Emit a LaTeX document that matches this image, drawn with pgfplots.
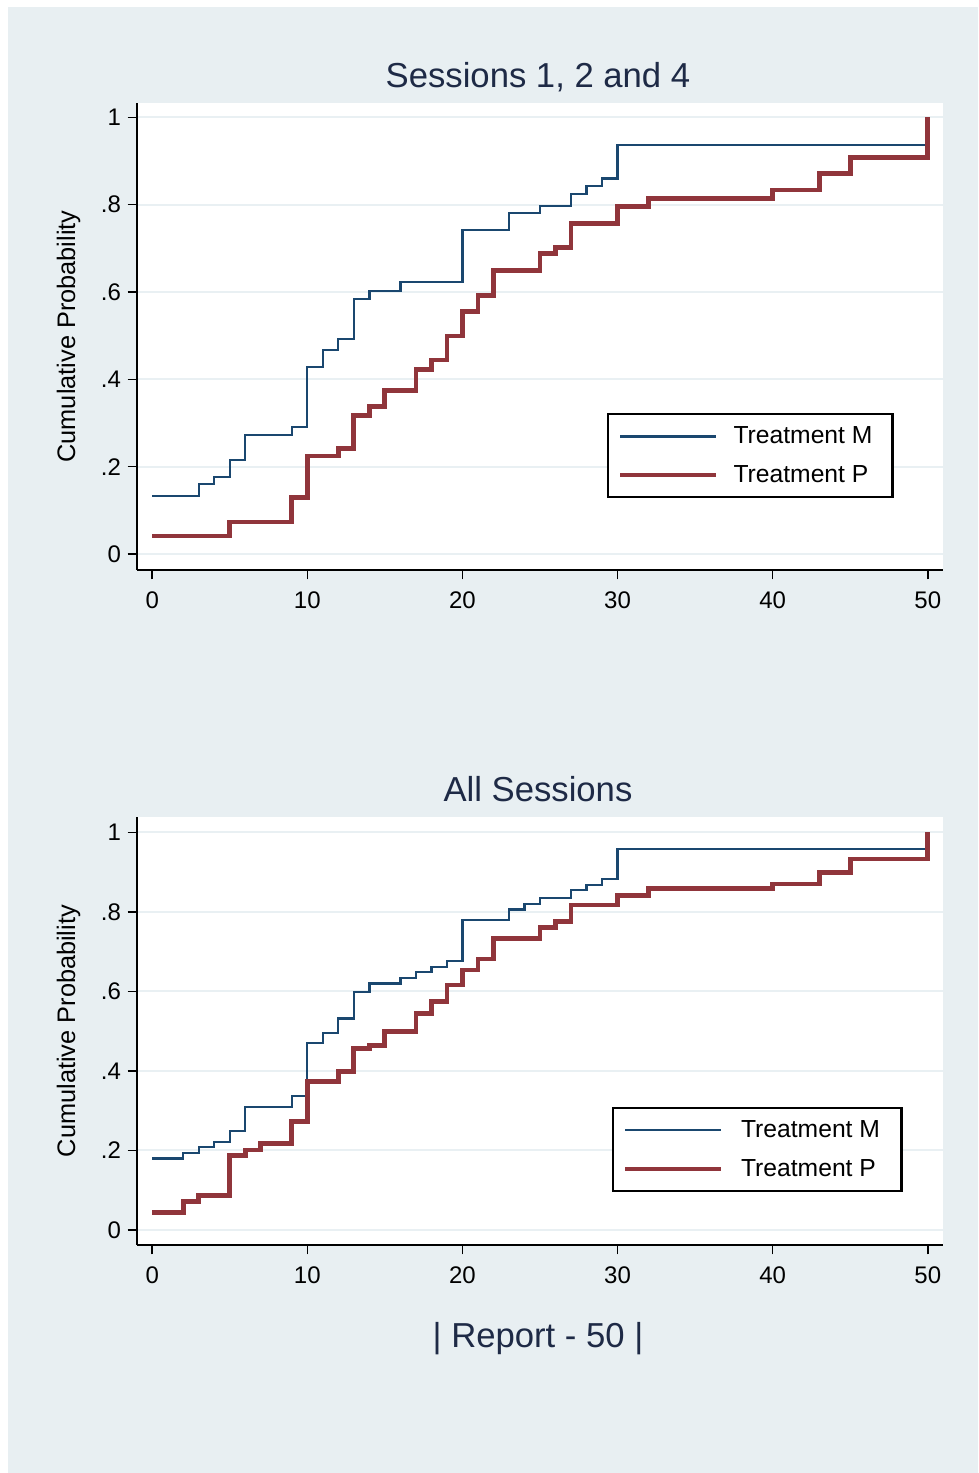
\documentclass[border=0pt]{standalone}
\usepackage{pgfplots}
\pgfplotsset{compat=1.18}
\usepackage{fontspec}
\setmainfont{Liberation Sans}
\definecolor{bgc}{RGB}{232,239,242}
\definecolor{gridc}{RGB}{233,240,243}
\definecolor{mblue}{RGB}{26,71,111}
\definecolor{pred}{RGB}{144,53,59}
\definecolor{titc}{RGB}{30,42,70}
\newcommand\tickfont{\fontsize{18}{21}\selectfont}
\newcommand\legfont{\fontsize{18.5}{22}\selectfont}
\newcommand\ylabfont{\fontsize{19}{22}\selectfont}
\newcommand\titfont{\fontsize{26}{30}\selectfont}
\pgfplotsset{
  cdfaxis/.style={
    scale only axis, width=604.5pt,
    xmin=-0.98, xmax=50.98,
    axis lines*=left,
    axis line style={-, line width=1.1pt, black},
    xtick={0,10,20,30,40,50}, xticklabels={0,10,20,30,40,50},
    ytick={0,0.2,0.4,0.6,0.8,1}, yticklabels={0,.2,.4,.6,.8,1},
    tick align=outside, major tick length=7pt,
    tick style={line width=1.1pt, black},
    ymajorgrids, grid style={line width=1.5pt, gridc},
    axis background/.style={fill=white},
    ticklabel style={font=\tickfont, text=black},
    xticklabel style={yshift=-6pt},
    yticklabel style={xshift=-1.5pt},
    every axis y label/.style={at={(axis description cs:-0.085,0.5)}, rotate=90, anchor=center, font=\ylabfont, text=black},
    every axis title/.style={at={(axis description cs:0.4975,1)}, anchor=base, yshift=11.5pt, font=\titfont, text=titc},
    ylabel={Cumulative Probability},
    legend image code/.code={\draw[#1] (0pt,0pt) -- (72pt,0pt);},
    legend cell align=left,
  },
  mline/.style={const plot, no marks, color=mblue, line width=1.7pt},
  pline/.style={const plot, no marks, color=pred, line width=3.6pt},
  legbox/.style={draw=black, line width=1.8pt, fill=white, font=\legfont,
    inner xsep=7.5pt, inner ysep=9.5pt, row sep=14.7pt, column sep=11pt,
    nodes={inner sep=0pt}},
}
\begin{document}
\begin{tikzpicture}
\fill[white] (0,0) rectangle (733.5pt,1104.75pt);
\fill[bgc] (6pt,0) rectangle (733.5pt,1099.5pt);
\useasboundingbox (0,0) rectangle (733.5pt,1104.75pt);
% Top panel
\begin{axis}[cdfaxis, at={(102.75pt,677.25pt)}, anchor=south west,
  height=350.25pt, ymin=-0.0366, ymax=1.0327,
  title={Sessions 1, 2 and 4},
  legend style={legbox, at={(0.583,0.336)}, anchor=north west}]
\addplot[mline] coordinates {(0,0.1335) (3,0.1596) (4,0.177) (5,0.215) (6,0.2725) (9,0.2915) (10,0.429) (11,0.467) (12,0.4916) (13,0.584) (14,0.603) (16,0.622) (20,0.742) (23,0.780) (25,0.7976) (27,0.8237) (28,0.8427) (29,0.860) (30,0.9366) (50,0.9366) (50,1)};
\addlegendentry{Treatment M\kern7.5pt}
\addplot[pline] coordinates {(0,0.0412) (5,0.0733) (9,0.129) (10,0.2244) (12,0.242) (13,0.318) (14,0.337) (15,0.374) (17,0.423) (18,0.444) (19,0.499) (20,0.556) (21,0.5916) (22,0.650) (25,0.6885) (26,0.7015) (27,0.757) (30,0.795) (32,0.8145) (40,0.8335) (43,0.8717) (45,0.908) (50,0.908) (50,1)};
\addlegendentry{Treatment P\kern7.5pt}
\end{axis}
% Bottom panel
\begin{axis}[cdfaxis, at={(102.75pt,171pt)}, anchor=south west,
  height=321pt, ymin=-0.0377, ymax=1.0385,
  title={All Sessions},
  xlabel={| Report - 50 |},
  every axis x label/.style={at={(axis description cs:0.4975,0)}, anchor=base, yshift=-77.25pt, font=\titfont, text=titc},
  legend style={legbox, at={(0.589,0.3224)}, anchor=north west, column sep=13pt}]
\addplot[mline] coordinates {(0,0.180) (2,0.193) (3,0.208) (4,0.2205) (5,0.249) (6,0.310) (9,0.3378) (10,0.4694) (11,0.4946) (12,0.532) (13,0.599) (14,0.620) (16,0.6345) (17,0.6496) (18,0.662) (19,0.6764) (20,0.7787) (23,0.806) (24,0.8206) (25,0.834) (27,0.855) (28,0.8675) (29,0.8826) (30,0.958) (50,0.958) (50,1)};
\addlegendentry{Treatment M\kern8.5pt}
\addplot[pline] coordinates {(0,0.0445) (2,0.0712) (3,0.0863) (5,0.187) (6,0.201) (7,0.218) (9,0.2724) (10,0.373) (12,0.398) (13,0.457) (14,0.4635) (15,0.4987) (17,0.545) (18,0.574) (19,0.616) (20,0.654) (21,0.6814) (22,0.7334) (25,0.761) (26,0.775) (27,0.817) (30,0.842) (32,0.859) (40,0.870) (43,0.899) (45,0.933) (50,0.933) (50,1)};
\addlegendentry{Treatment P\kern8.5pt}
\end{axis}
\end{tikzpicture}
\end{document}
